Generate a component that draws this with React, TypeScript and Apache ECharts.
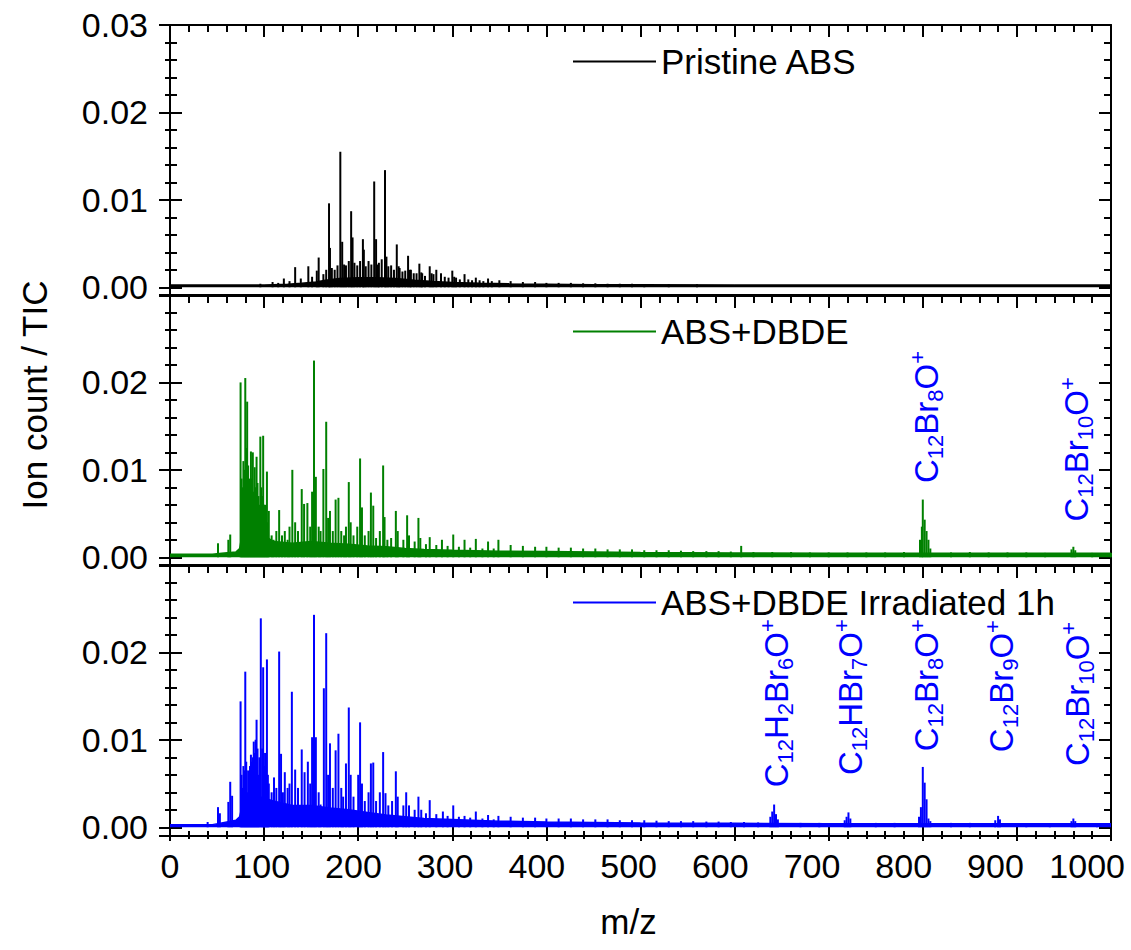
import React, { useEffect, useRef } from 'react';
import * as echarts from 'echarts';

// ---------- data (heights in units of 0.001 Ion count / TIC) ----------
const SERIES_NAMES = ['Pristine ABS', 'ABS+DBDE', 'ABS+DBDE Irradiated 1h'];
const COLORS = ['#000000', '#008000', '#0000ff'];
const Y_TITLE = 'Ion count / TIC';
const X_TITLE = 'm/z';

const X_MIN = 0;
const X_MAX = 1000;
const X_LABEL_AXIS_MAX = 1026; // tick labels in the reference sit slightly left of their ticks
const Y_MIN = -0.001;
const Y_MAX = 0.03;
const X_TICKS = [0, 100, 200, 300, 400, 500, 600, 700, 800, 900, 1000];

const PRISTINE_PEAKS: [number, number][] = [
  [96, 0.4], [109, 0.6], [115, 0.5], [121, 1.0], [127, 0.7], [133, 2.3], [139, 1.0], [147, 2.4],
  [151, 1.2], [156, 1.9], [158, 3.4], [163, 1.5], [166, 2.0], [169, 9.6], [170, 4.5], [172, 2.2], [175, 2.0],
  [178, 2.5], [181, 15.5], [183, 5.2], [185, 2.6], [187, 2.5], [190, 3.0], [192.5, 8.7], [194, 5.7], [196, 2.8], [199, 2.5],
  [202, 3.0], [205, 5.5], [206, 4.3], [208, 2.4], [211, 3.0], [214, 2.6], [217, 12.1], [219, 5.5], [221, 2.6], [222, 2.8],
  [225, 3.2], [228.5, 13.4], [230, 3.5], [232, 2.4], [235, 2.5], [238, 2.0], [241, 4.9], [243, 2.4], [244, 2.2], [247, 1.8],
  [250, 1.9], [253, 3.6], [255, 2.0], [256, 2.0], [259, 1.6], [262, 1.6], [265, 2.7], [267, 1.7], [268, 1.6], [271, 1.3],
  [276, 2.4], [278, 1.6], [280, 1.5], [283, 2.0], [288, 1.6], [292, 1.2], [296, 1.1], [300, 1.9], [302, 1.2], [304, 1.1],
  [308, 0.9], [313, 1.5], [317, 0.9], [321, 0.8], [325, 1.1], [329, 0.8], [333, 0.7], [338, 1.0],
  [342, 0.7], [350, 0.8], [362, 0.7], [375, 0.6], [388, 0.6], [400, 0.5], [413, 0.5], [426, 0.5],
  [439, 0.45], [452, 0.45], [465, 0.4], [478, 0.4], [491, 0.4], [504, 0.35], [530, 0.35], [560, 0.35],
];

const PRISTINE_FLOOR: [number, number][] = [
  [0, 0.25], [100, 0.25], [110, 0.3], [125, 0.35], [140, 0.45], [155, 0.6], [165, 0.8], [180, 1.0],
  [200, 1.1], [220, 1.1], [240, 1.0], [260, 0.8], [280, 0.65], [300, 0.55], [330, 0.45], [360, 0.4],
  [400, 0.35], [450, 0.3], [500, 0.3], [600, 0.25], [1000, 0.25],
];

const DBDE_PEAKS: [number, number][] = [
  [51, 1.6], [62, 2.0], [64, 2.6], [75, 20.0], [76, 9.0], [77, 8.0], [78, 11.0], [79, 10.0], [80, 20.5],
  [81, 12.5], [82, 17.8], [83, 10.5], [84, 9.0], [85, 8.0], [86, 12.1], [87, 9.0], [88, 12.0], [89, 7.5],
  [90, 10.3], [91, 8.0], [92, 11.5], [93, 8.5], [94, 7.0], [95, 6.0], [96, 13.8], [97, 8.0], [98, 7.0],
  [99, 13.9], [100, 6.0], [101, 6.0], [102, 5.0], [103, 9.8], [104, 4.0],
  [105, 5.3], [108, 2.5], [110, 2.0], [113, 3.0], [116, 5.4], [119, 2.5], [122, 3.0],
  [125, 2.0], [127, 3.5], [130, 10.0], [133, 4.0], [136, 3.0], [140, 7.8], [142.5, 6.1], [146, 6.2],
  [149, 3.5], [151, 7.5], [153, 22.5], [155, 9.2], [158, 3.5], [160, 3.0], [163, 10.1], [166, 15.5],
  [168, 4.5], [170, 5.3], [173, 3.0], [176, 6.6], [179, 6.8], [182, 3.0], [185, 2.5], [187, 3.5],
  [190, 8.6], [192, 4.0], [195, 2.5], [199, 3.5], [202, 11.3], [204, 5.7], [207, 2.5], [211, 3.0],
  [213.5, 7.4], [216, 5.9], [219, 2.2], [223, 3.0], [226.5, 10.5], [228, 4.6], [231, 2.0], [235, 2.2],
  [240, 5.3], [242, 3.0], [248, 2.0], [252, 4.8], [254, 2.5], [260, 1.8], [264, 4.5], [266, 2.2],
  [272, 1.5], [276, 2.3], [283, 1.4], [289, 2.0], [295, 1.3], [301, 2.6], [307, 1.2], [313, 2.0],
  [319, 1.1], [325, 2.1], [332, 1.0], [338, 1.8], [344, 1.0], [349, 2.0], [362, 1.4], [375, 1.3],
  [388, 1.2], [400, 1.2], [413, 1.1], [426, 1.1], [439, 1.0], [452, 1.0], [465, 0.9], [478, 0.9],
  [491, 0.9], [504, 0.8], [517, 0.8], [530, 0.8], [543, 0.75], [556, 0.7], [570, 0.7], [583, 0.7],
  [596, 0.65], [607, 1.3], [620, 0.6], [640, 0.6], [660, 0.6], [680, 0.55], [700, 0.55], [720, 0.55],
  [740, 0.55], [760, 0.55], [780, 0.6], [797, 2.0], [799, 3.5], [800, 6.6], [802, 4.3], [804, 3.0],
  [806, 2.0], [808, 1.0], [830, 0.55], [850, 0.6], [870, 0.55], [890, 0.55], [910, 0.55], [930, 0.5],
  [958, 0.9], [960, 1.2], [962, 0.8], [980, 0.5], [1000, 0.5],
];

const DBDE_FLOOR: [number, number][] = [
  [0, 0.35], [45, 0.35], [55, 0.45], [70, 0.6], [74, 1.0], [78, 3.5], [90, 3.0], [100, 2.5],
  [110, 1.8], [130, 1.6], [150, 1.8], [170, 1.6], [190, 1.5], [210, 1.3], [230, 1.2], [250, 1.0],
  [270, 0.9], [300, 0.8], [350, 0.7], [400, 0.65], [500, 0.55], [600, 0.5], [700, 0.45], [1000, 0.45],
];

const IRR_PEAKS: [number, number][] = [
  [40, 0.6], [51, 2.3], [53, 1.6], [62, 2.9], [64, 5.2], [66, 3.6], [75, 14.4], [76, 6.0], [77, 4.5],
  [78, 7.0], [79, 6.5], [80, 17.8], [81, 7.5], [82, 4.0], [83, 6.5], [84, 5.0], [85, 7.0], [86, 8.3],
  [87, 7.5], [88, 8.0], [89, 9.8], [90, 8.5], [91, 10.0], [92, 12.3], [93, 9.0], [94, 6.0], [95, 8.0],
  [96.5, 23.9], [98, 9.0], [99, 18.3], [100, 7.0], [101, 8.5], [102, 7.5], [103, 19.2], [104, 6.0], [105, 5.0],
  [108, 4.0], [110.5, 5.7], [113, 4.5], [116, 20.1],
  [118, 8.4], [120, 4.0], [122, 6.3], [125, 4.5], [127, 5.0], [129.5, 15.5], [133, 6.6], [136, 4.5],
  [140, 8.9], [143, 6.3], [146.5, 7.5], [149, 5.0], [151, 10.3], [153, 24.3], [155, 10.3], [158, 4.0],
  [160, 2.6], [163.5, 15.9], [166, 22.2], [168, 6.0], [170, 9.6], [173, 4.5], [176, 8.8], [179, 10.7],
  [182, 4.5], [184, 3.5], [187, 7.3], [190, 13.7], [192, 6.0], [195, 3.5], [200, 6.0], [202, 12.0],
  [204, 5.0], [207, 3.0], [211, 4.0], [213.5, 7.3], [216, 7.4], [219, 3.0], [223, 4.0], [226.5, 8.6],
  [229, 3.9], [232, 2.5], [236, 3.0], [240, 6.4], [242, 3.5], [248, 2.5], [251, 4.0], [254, 2.5],
  [260, 2.0], [264, 3.5], [267, 2.0], [272, 1.6], [276, 3.1], [283, 1.5], [290, 1.8], [295, 1.3],
  [301, 2.5], [307, 1.2], [313, 1.3], [319, 1.1], [325, 1.8], [332, 1.0], [338, 1.4], [344, 0.9],
  [349, 1.3], [362, 1.2], [375, 1.1], [388, 1.1], [400, 1.0], [413, 1.0], [426, 1.0], [439, 0.9],
  [452, 0.9], [465, 0.9], [478, 0.8], [491, 0.8], [504, 0.8], [517, 0.75], [530, 0.7], [543, 0.7],
  [556, 0.7], [570, 0.65], [583, 0.65], [596, 0.6], [610, 0.6], [625, 0.55], [638, 1.2], [640, 1.8],
  [642, 2.6], [644, 1.5], [646, 0.9], [670, 0.5], [690, 0.5], [717, 0.8], [719, 1.2], [721, 1.7],
  [723, 1.0], [750, 0.5], [770, 0.5], [796, 1.2], [798, 2.3], [800, 6.9], [802, 5.1], [804, 3.2],
  [806, 1.0], [808, 0.7], [830, 0.5], [850, 0.5], [877, 0.8], [880, 1.3], [882, 0.9], [910, 0.45],
  [935, 0.45], [958, 0.7], [960, 1.0], [962, 0.7], [985, 0.45],
];

const IRR_FLOOR: [number, number][] = [
  [0, 0.3], [45, 0.3], [55, 0.5], [70, 0.8], [74, 1.2], [78, 3.0], [95, 3.5], [110, 3.0],
  [130, 2.5], [150, 2.5], [170, 2.2], [190, 2.0], [210, 1.7], [230, 1.4], [250, 1.2], [270, 1.0],
  [300, 0.9], [350, 0.7], [400, 0.6], [500, 0.5], [600, 0.45], [700, 0.4], [1000, 0.4],
];

// annotations: formula, m/z of label column, top of label (value)
const LABELS_MID: { f: string; mz: number; top: number }[] = [
  { f: 'C12Br8O+', mz: 804, top: 0.0236 },
  { f: 'C12Br10O+', mz: 963, top: 0.0206 },
];
const LABELS_BOT: { f: string; mz: number; top: number }[] = [
  { f: 'C12H2Br6O+', mz: 644, top: 0.0238 },
  { f: 'C12HBr7O+', mz: 723, top: 0.0238 },
  { f: 'C12Br8O+', mz: 804, top: 0.0238 },
  { f: 'C12Br9O+', mz: 884, top: 0.0237 },
  { f: 'C12Br10O+', mz: 964, top: 0.0235 },
];

const PEAKS = [PRISTINE_PEAKS, DBDE_PEAKS, IRR_PEAKS];
const FLOORS = [PRISTINE_FLOOR, DBDE_FLOOR, IRR_FLOOR];

// ---------- layout ----------
const FONT = '"Liberation Sans", Arial, sans-serif';
const GRID_TOPS = [25, 295, 565];
const GRID_H = 271;
const GRID_LEFT = 170;
const GRID_RIGHT = 20;
const LEGEND_TOPS = [44, 314, 585];
const AX = { color: '#000', width: 2 };

function xAxis(grid: number, extra: any) {
  return {
    type: 'value', gridIndex: grid, min: X_MIN, max: X_MAX, interval: 100, position: 'bottom',
    axisLine: { show: true, onZero: false, lineStyle: AX },
    axisTick: { show: true, inside: false, length: 12, lineStyle: AX },
    minorTick: { show: true, splitNumber: 5, length: 7, lineStyle: AX },
    axisLabel: { show: false },
    splitLine: { show: false }, minorSplitLine: { show: false },
    ...extra,
  };
}

function yAxis(grid: number, extra: any) {
  return {
    type: 'value', gridIndex: grid, min: Y_MIN, max: Y_MAX, splitNumber: 3,
    minInterval: 0.01, maxInterval: 0.01, position: 'left',
    axisLine: { show: true, onZero: false, lineStyle: AX },
    axisTick: { show: true, inside: false, length: 11, lineStyle: AX },
    minorTick: { show: true, splitNumber: 5, length: 5, lineStyle: AX },
    axisLabel: { show: false },
    splitLine: { show: false }, minorSplitLine: { show: false },
    ...extra,
  };
}

function richFormula(f: string) {
  const parts = f.match(/[A-Za-z]+|\d+|\+/g) || [];
  return parts
    .map((p) => (/\d/.test(p) ? `{s|${p}}` : p === '+' ? `{p|+}` : `{b|${p}}`))
    .join('');
}

export default function App() {
  const ref = useRef<HTMLDivElement>(null);

  useEffect(() => {
    document.body.style.margin = '0';
    const chart = echarts.init(ref.current!, undefined, { renderer: 'svg' });

    const grids: any[] = [];
    const xAxes: any[] = [];
    const yAxes: any[] = [];
    const series: any[] = [];
    const mainX: number[] = [];
    const mainY: number[] = [];

    for (let i = 0; i < 3; i++) {
      grids.push({
        left: GRID_LEFT, right: GRID_RIGHT, top: GRID_TOPS[i], height: GRID_H,
        containLabel: false, outerBoundsMode: 'none',
      });

      // main bottom x axis
      mainX.push(xAxes.length);
      if (i < 2) {
        xAxes.push(xAxis(i, {}));
      } else {
        xAxes.push(
          xAxis(i, {
            axisTick: { show: true, inside: false, length: 5, lineStyle: AX },
            minorTick: { show: true, splitNumber: 5, length: 3, lineStyle: AX },
            name: X_TITLE, nameLocation: 'middle', nameGap: 68,
            nameTextStyle: { fontSize: 35, color: '#000', fontFamily: FONT, padding: [0, 24, 0, 0] },
          })
        );
        xAxes.push(
          xAxis(i, {
            axisLine: { show: false, onZero: false },
            axisTick: { show: true, inside: true, length: 9, lineStyle: AX },
            minorTick: { show: true, splitNumber: 5, length: 5, lineStyle: AX },
          })
        );
        // tick-label axis
        xAxes.push(
          xAxis(i, {
            max: X_LABEL_AXIS_MAX,
            axisLine: { show: false, onZero: false },
            axisTick: { show: false },
            minorTick: { show: false },
            axisLabel: {
              show: true, fontSize: 34, color: '#000', fontFamily: FONT, margin: 13,
              showMinLabel: true, showMaxLabel: true, hideOverlap: false,
              customValues: X_TICKS,
              formatter: (v: number) => String(Math.round(v)),
            },
          })
        );
      }
      if (i === 0) {
        xAxes.push(
          xAxis(i, {
            position: 'top',
            axisTick: { show: true, inside: true, length: 12, lineStyle: AX },
            minorTick: { show: true, splitNumber: 5, length: 7, lineStyle: AX },
          })
        );
      } else {
        xAxes.push(xAxis(i, { position: 'top', axisTick: { show: false }, minorTick: { show: false } }));
      }

      // y axes
      const showTop = i === 0;
      mainY.push(yAxes.length);
      yAxes.push(
        yAxis(i, {
          axisLabel: {
            show: true, fontSize: 34, color: '#000', fontFamily: FONT, margin: 22,
            formatter: (v: number) => {
              if (Math.abs(v * 100 - Math.round(v * 100)) > 1e-6) return '';
              const r = Math.round(v * 100) / 100;
              if (!showTop && r >= 0.03) return '';
              return r.toFixed(2);
            },
          },
        })
      );
      yAxes.push(
        yAxis(i, {
          axisLine: { show: false, onZero: false },
          axisTick: { show: true, inside: true, length: 12, lineStyle: AX },
          minorTick: { show: true, splitNumber: 5, length: 7, lineStyle: AX },
        })
      );
      yAxes.push(
        yAxis(i, {
          position: 'right',
          axisTick: { show: true, inside: true, length: 12, lineStyle: AX },
          minorTick: { show: true, splitNumber: 5, length: 7, lineStyle: AX },
        })
      );

      series.push({
        name: SERIES_NAMES[i],
        type: 'line',
        xAxisIndex: mainX[i],
        yAxisIndex: mainY[i],
        data: FLOORS[i].map(([m, h]) => [m, h / 1000]),
        symbol: 'none',
        silent: true,
        lineStyle: { color: COLORS[i], width: 1.5 },
        itemStyle: { color: COLORS[i] },
        areaStyle: { color: COLORS[i], opacity: 1 },
        z: 2,
      });
      series.push({
        name: SERIES_NAMES[i] + ' peaks',
        type: 'bar',
        xAxisIndex: mainX[i],
        yAxisIndex: mainY[i],
        data: PEAKS[i].map(([m, h]) => [m, h / 1000]),
        barWidth: 2,
        silent: true,
        itemStyle: { color: COLORS[i] },
        z: 3,
      });
    }

    const legends = SERIES_NAMES.map((n, i) => ({
      data: [n],
      left: 572,
      top: LEGEND_TOPS[i],
      padding: 0,
      itemWidth: 83,
      itemHeight: 14,
      selectedMode: false,
      itemStyle: { opacity: 0, borderWidth: 0 },
      lineStyle: { width: 2, opacity: 1 },
      textStyle: { fontSize: 35, color: '#000', fontFamily: FONT },
    }));

    chart.setOption({
      animation: false,
      backgroundColor: '#fff',
      grid: grids,
      xAxis: xAxes,
      yAxis: yAxes,
      legend: legends,
      series,
    });

    const rich = {
      b: { fontSize: 33, fontFamily: FONT, fill: '#0000ff', color: '#0000ff', lineHeight: 40, verticalAlign: 'middle' },
      s: { fontSize: 22, fontFamily: FONT, fill: '#0000ff', color: '#0000ff', verticalAlign: 'bottom' },
      p: { fontSize: 22, fontFamily: FONT, fill: '#0000ff', color: '#0000ff', verticalAlign: 'top' },
    };
    const graphics: any[] = [
      {
        type: 'text',
        x: 34,
        y: 395,
        rotation: Math.PI / 2,
        silent: true,
        style: {
          text: Y_TITLE, fill: '#000', fontSize: 35, fontFamily: FONT,
          align: 'center', verticalAlign: 'middle',
        },
      },
    ];
    const addLabels = (labels: typeof LABELS_MID, gi: number) => {
      labels.forEach((l) => {
        const pt = chart.convertToPixel({ xAxisIndex: mainX[gi], yAxisIndex: mainY[gi] }, [l.mz, l.top]) as number[];
        graphics.push({
          type: 'text',
          x: pt[0],
          y: pt[1],
          rotation: Math.PI / 2,
          silent: true,
          style: {
            text: richFormula(l.f),
            rich,
            align: 'right',
            verticalAlign: 'middle',
            fill: '#0000ff',
            fontSize: 33,
            fontFamily: FONT,
          },
        });
      });
    };
    addLabels(LABELS_MID, 1);
    addLabels(LABELS_BOT, 2);
    chart.setOption({ graphic: graphics });

    return () => chart.dispose();
  }, []);

  return <div ref={ref} style={{ width: 1131, height: 950 }} />;
}
